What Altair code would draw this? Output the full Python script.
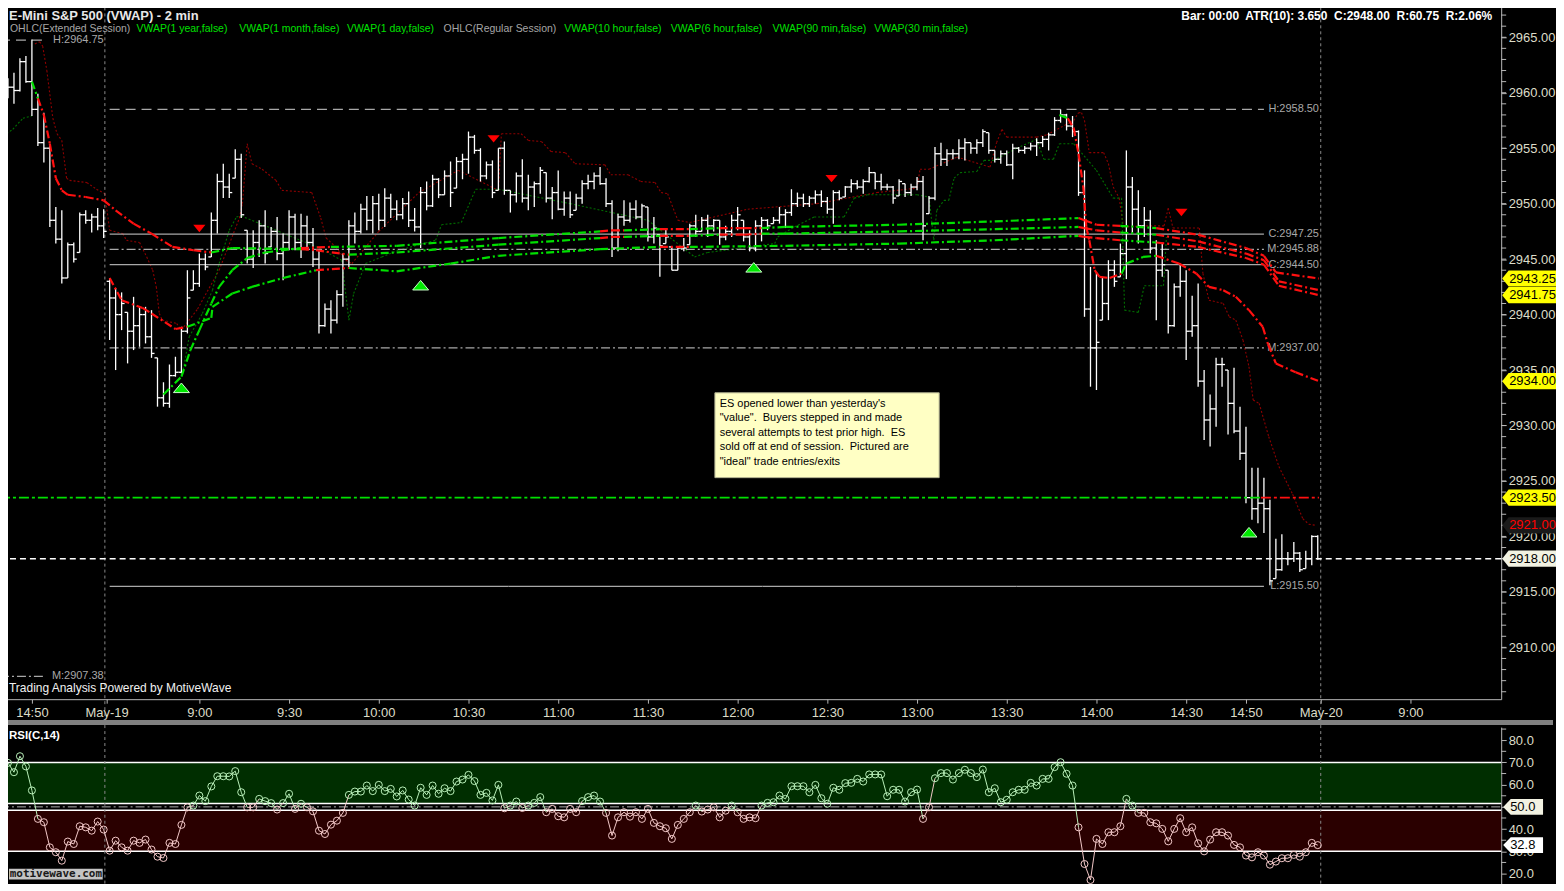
import altair as alt
import pandas as pd

# ------------------------------------------------------------------ data
OPEN = [2960.2,2960.0,2960.5,2960.2,2962.8,2961.0,2958.5,2955.5,2955.0,2948.5,
2946.8,2943.3,2946.3,2945.6,2949.0,2948.5,2948.8,2948.0,2943.0,2941.5,
2940.0,2940.2,2938.5,2939.0,2940.0,2938.0,2936.1,2932.5,2932.0,2934.5,
2934.8,2938.5,2942.2,2942.8,2945.0,2945.2,2948.5,2952.0,2951.5,2952.3,
2954.0,2947.6,2945.0,2946.5,2948.0,2946.1,2947.5,2945.5,2946.5,2948.8,
2946.5,2948.0,2946.5,2945.0,2939.0,2940.5,2939.5,2941.8,2945.0,2948.0,
2947.5,2949.5,2948.5,2950.0,2948.5,2950.5,2949.5,2949.0,2950.0,2948.5,
2947.9,2951.0,2949.8,2952.2,2950.8,2952.5,2951.4,2953.8,2954.0,2956.0,
2954.8,2952.5,2953.5,2951.2,2955.0,2951.2,2950.8,2952.5,2950.5,2951.5,
2951.8,2952.8,2950.5,2951.0,2949.5,2950.5,2949.4,2950.5,2951.8,2952.0,
2952.5,2951.8,2950.0,2946.0,2948.8,2948.5,2949.5,2948.8,2949.7,2947.0,
2947.2,2946.4,2946.1,2944.0,2946.0,2946.3,2948.0,2947.5,2948.5,2948.0,
2948.5,2947.0,2947.5,2948.5,2948.5,2947.0,2946.0,2948.0,2948.5,2948.2,
2948.5,2949.0,2949.2,2950.0,2950.5,2950.0,2950.5,2950.8,2950.2,2949.5,
2951.0,2950.6,2951.5,2951.8,2951.5,2952.0,2952.8,2952.0,2951.5,2951.5,
2950.7,2951.8,2951.0,2951.5,2952.0,2949.1,2950.5,2954.5,2954.0,2954.5,
2954.5,2955.0,2955.5,2955.0,2955.5,2956.4,2954.8,2954.0,2954.5,2953.5,
2955.0,2954.8,2955.0,2955.2,2955.5,2955.8,2956.2,2957.5,2958.0,2957.0,
2956.5,2951.0,2940.5,2937.0,2939.5,2941.0,2944.0,2943.4,2945.5,2951.5,
2949.5,2948.0,2948.5,2946.0,2944.0,2944.0,2939.0,2942.5,2943.0,2938.5,
2939.0,2934.0,2930.5,2931.5,2935.5,2935.0,2932.0,2929.5,2927.5,2923.5,
2922.5,2923.0,2922.5,2916.2,2917.0,2918.0,2918.0,2918.5,2917.1,2918.0,
2920.0]
HIGH = [2961.3,2961.3,2961.8,2963.1,2963.3,2964.8,2959.9,2958.2,2955.4,2949.7,
2949.4,2946.5,2946.5,2949.2,2949.4,2949.1,2949.6,2949.5,2943.3,2942.4,
2942.0,2940.2,2941.6,2940.7,2940.7,2940.4,2936.1,2933.9,2935.5,2936.2,
2938.9,2944.0,2944.0,2945.5,2945.5,2949.2,2952.7,2953.6,2952.7,2954.9,
2954.5,2947.6,2947.6,2948.5,2949.4,2947.9,2948.8,2947.3,2949.4,2949.1,
2949.1,2948.9,2947.8,2945.8,2941.0,2941.3,2942.2,2945.5,2948.5,2949.2,
2950.0,2950.7,2950.7,2950.9,2951.4,2950.9,2950.3,2950.5,2951.1,2949.6,
2951.5,2952.0,2952.6,2952.3,2953.0,2953.8,2954.2,2954.5,2956.5,2956.2,
2955.0,2953.8,2953.9,2955.0,2955.6,2951.2,2952.8,2954.0,2952.6,2952.0,
2953.3,2952.8,2951.5,2953.0,2951.1,2951.1,2950.9,2952.1,2952.6,2952.8,
2953.3,2952.3,2950.3,2949.1,2950.3,2950.1,2950.3,2950.0,2949.7,2948.8,
2947.2,2947.8,2946.1,2946.1,2946.9,2948.2,2949.0,2948.8,2949.0,2948.6,
2948.5,2948.0,2949.0,2949.7,2948.5,2947.6,2948.5,2948.8,2948.6,2948.8,
2949.7,2949.5,2951.3,2951.0,2950.9,2950.7,2951.2,2951.2,2950.6,2951.2,
2951.2,2951.6,2952.2,2952.1,2952.2,2953.3,2952.8,2952.7,2951.8,2951.6,
2952.2,2951.8,2951.8,2952.4,2952.5,2950.7,2955.1,2955.5,2954.9,2954.9,
2955.8,2955.9,2955.5,2955.8,2956.7,2956.4,2954.8,2954.8,2954.8,2955.4,
2955.1,2955.2,2955.5,2955.9,2956.1,2956.4,2957.8,2958.5,2958.1,2957.9,
2956.6,2953.0,2944.3,2943.8,2943.4,2944.9,2944.9,2946.4,2954.8,2952.4,
2951.2,2949.7,2949.4,2946.7,2946.4,2944.0,2942.8,2944.6,2944.0,2941.7,
2942.8,2935.0,2932.8,2936.1,2936.1,2935.0,2935.2,2931.7,2929.9,2926.2,
2926.2,2925.3,2923.3,2919.8,2920.2,2918.6,2919.5,2918.6,2918.7,2920.1,
2920.1]
LOW = [2959.0,2959.5,2959.0,2960.1,2960.9,2957.9,2955.2,2953.7,2947.9,2946.4,
2942.8,2943.3,2944.7,2945.6,2948.2,2947.4,2947.6,2946.9,2937.7,2935.0,
2938.6,2935.6,2936.8,2937.1,2937.4,2936.1,2931.7,2931.7,2931.6,2934.4,
2934.7,2938.3,2942.2,2942.5,2944.0,2945.2,2947.3,2950.5,2950.5,2952.3,
2948.7,2944.6,2944.2,2945.2,2944.6,2946.1,2944.9,2943.1,2945.8,2945.8,
2945.1,2945.8,2944.3,2938.3,2938.9,2938.3,2939.2,2940.7,2944.3,2946.4,
2947.3,2947.6,2947.3,2947.6,2947.9,2948.7,2948.5,2948.6,2947.9,2947.5,
2946.0,2949.4,2949.7,2950.5,2950.8,2949.7,2951.4,2952.2,2952.7,2954.5,
2952.0,2952.2,2950.5,2951.2,2950.8,2949.2,2950.1,2950.1,2949.4,2949.7,
2950.9,2950.1,2948.6,2949.4,2948.9,2948.7,2949.4,2950.0,2951.3,2951.3,
2951.7,2949.7,2945.2,2945.7,2948.0,2948.3,2948.6,2947.8,2946.6,2946.4,
2943.4,2946.4,2944.0,2944.0,2945.7,2946.3,2947.0,2947.5,2947.0,2947.5,
2946.3,2946.7,2947.0,2947.6,2946.6,2945.7,2945.7,2946.6,2947.6,2948.2,
2948.2,2947.8,2948.9,2949.7,2949.7,2949.7,2950.0,2949.7,2949.1,2948.2,
2950.3,2950.6,2951.0,2951.3,2950.9,2951.9,2951.3,2951.2,2951.2,2950.0,
2950.7,2950.6,2950.7,2951.2,2946.7,2949.1,2950.3,2953.4,2953.4,2954.0,
2954.0,2953.9,2954.5,2954.5,2955.1,2954.5,2953.7,2953.6,2953.4,2952.2,
2954.6,2954.5,2954.8,2954.3,2955.1,2954.8,2956.1,2957.3,2956.6,2956.0,
2950.7,2939.8,2933.5,2933.2,2939.5,2939.5,2942.5,2943.4,2943.2,2947.3,
2946.4,2947.0,2945.5,2939.5,2943.4,2938.3,2938.9,2941.6,2935.9,2938.0,
2933.5,2928.7,2928.1,2929.9,2933.5,2929.2,2929.3,2926.9,2923.0,2921.5,
2921.2,2920.3,2915.6,2916.2,2916.9,2917.4,2917.7,2916.8,2917.1,2917.4,
2917.9]
CLOSE = [2960.0,2960.5,2960.2,2962.8,2961.0,2958.5,2955.5,2955.0,2948.5,2946.8,
2943.3,2946.3,2945.0,2949.0,2948.5,2948.8,2948.0,2947.5,2941.5,2940.0,
2941.0,2938.5,2939.0,2940.0,2938.0,2936.5,2932.5,2932.0,2934.5,2934.8,
2938.5,2941.5,2942.8,2945.0,2944.3,2948.5,2952.0,2951.5,2951.0,2954.0,
2949.0,2945.0,2946.5,2948.0,2945.5,2947.5,2945.5,2946.5,2948.8,2946.5,
2948.0,2946.5,2945.0,2939.0,2940.5,2939.5,2941.8,2945.0,2948.0,2947.5,
2949.5,2948.5,2950.0,2948.5,2950.5,2949.5,2949.0,2950.0,2948.5,2947.9,
2951.0,2949.8,2952.2,2950.8,2952.5,2951.0,2953.8,2954.0,2956.0,2954.8,
2952.5,2953.5,2951.0,2955.0,2951.2,2950.8,2952.5,2950.5,2951.5,2951.8,
2953.0,2950.5,2951.0,2949.5,2950.5,2949.0,2950.5,2951.8,2952.0,2952.5,
2951.8,2950.0,2946.0,2948.8,2948.5,2949.5,2948.8,2949.8,2947.0,2947.8,
2946.2,2947.0,2944.0,2946.0,2946.0,2948.0,2947.5,2948.5,2948.0,2948.5,
2947.0,2947.5,2948.5,2949.0,2947.0,2946.0,2948.0,2948.5,2948.0,2948.5,
2949.0,2949.2,2950.0,2950.5,2950.0,2950.5,2950.8,2950.2,2949.5,2951.0,
2950.5,2951.5,2951.8,2951.5,2952.0,2952.8,2952.0,2951.5,2951.5,2950.5,
2952.0,2951.0,2951.5,2952.0,2948.0,2950.5,2954.5,2954.0,2954.5,2954.5,
2955.0,2955.5,2955.0,2955.5,2956.5,2954.8,2954.0,2954.5,2953.5,2955.0,
2954.8,2955.0,2955.2,2955.5,2955.8,2956.2,2957.5,2958.0,2957.0,2956.5,
2951.0,2940.5,2937.0,2937.5,2941.0,2944.0,2943.0,2945.5,2951.5,2949.5,
2948.0,2948.5,2946.0,2944.0,2944.5,2939.0,2942.5,2943.0,2938.5,2939.0,
2934.0,2930.5,2931.5,2935.5,2935.5,2932.0,2929.5,2927.5,2923.5,2922.5,
2923.0,2922.5,2916.0,2917.0,2918.0,2918.0,2918.5,2917.0,2918.0,2920.0,
2918.0]

RSI_VALUES = [67.9,69.8,65.6,72.8,68.2,57.4,44.6,43.1,31.8,29.6,
25.8,34.4,33.3,41.3,40.8,39.3,43.4,39.8,30.3,34.8,
31.8,30.3,34.8,33.8,35.3,30.8,27.6,27.0,33.8,33.3,
41.9,49.8,50.6,55.1,52.6,59.2,63.8,63.8,63.7,66.1,
56.6,49.8,49.8,53.6,52.6,51.7,48.8,51.7,55.9,49.1,
51.4,49.8,48.0,39.3,37.8,42.0,43.8,47.3,55.4,56.9,
56.9,59.6,57.1,59.9,57.1,58.1,54.7,57.4,53.3,50.6,
58.6,55.4,59.6,55.9,58.4,57.1,61.4,62.3,64.4,61.6,
55.4,56.3,52.9,59.9,49.4,50.6,52.4,49.5,50.6,51.8,
54.4,47.6,49.1,45.8,45.3,49.1,47.6,52.6,54.4,55.1,
52.4,47.3,37.1,45.3,47.6,45.6,47.6,44.6,49.1,42.8,
41.3,40.4,35.6,41.9,44.6,47.6,50.6,47.9,48.8,49.8,
45.3,48.3,50.6,47.6,44.6,45.3,44.9,50.6,51.8,52.1,
55.1,53.6,59.3,59.3,59.3,56.6,59.9,53.9,51.4,58.6,
57.7,60.7,60.8,62.6,61.4,64.6,64.6,64.6,54.8,57.7,
57.7,52.4,56.6,57.8,44.6,49.8,62.9,65.2,65.2,62.3,
65.2,66.7,65.2,63.4,66.8,56.6,58.4,52.1,53.2,56.6,
57.7,57.7,60.8,59.6,62.6,62.6,67.9,70.1,64.9,59.6,
40.8,24.3,17.1,35.6,33.3,38.6,38.6,41.3,53.6,50.6,
47.3,47.3,43.1,42.6,40.1,34.5,40.1,44.9,38.6,40.8,
33.6,30.0,35.3,38.6,38.6,37.1,32.9,31.8,28.1,27.3,
29.6,28.1,24.0,25.4,26.9,26.9,28.4,27.6,29.6,33.8,
32.8]

# x = bar index (2-minute bars); session boundaries
TICK_POS = [5, 17.5, 33, 48, 63, 78, 93, 108, 123, 138, 153, 168, 183, 198, 208, 220.5, 235.5]
TICK_TXT = ["14:50", "May-19", "9:00", "9:30", "10:00", "10:30", "11:00", "11:30", "12:00",
            "12:30", "13:00", "13:30", "14:00", "14:30", "14:50", "May-20", "9:00"]
SESSION_LINES = [17.2, 220.5]
PRICE_LABEL_TICKS = [2910, 2915, 2920, 2925, 2930, 2935, 2940, 2945, 2950, 2955, 2960, 2965]
PRICE_MINOR_TICKS = list(range(2906, 2969))
RSI_LABEL_TICKS = [20, 30, 40, 50, 60, 70, 80]
RSI_MINOR_TICKS = [15, 25, 35, 45, 55, 65, 75, 85]

# VWAP study lines (vertices), segment colours g/r
VWA_X = [5, 6, 7, 8, 9, 10, 11, 14, 17, 19, 22, 25, 28.5, 32, 35, 38.5, 50, 52.5, 58, 66,
         83, 100, 102, 104, 110, 115, 120, 124, 127, 131, 150, 166, 180, 181, 183, 187, 193, 200, 208, 211,
         213.5, 220.2]
VWA_Y = [2961.0, 2959.5, 2958.0, 2955.4, 2952.3, 2951.2, 2950.8, 2950.6, 2950.3, 2949.4,
         2948.2, 2947.3, 2946.1, 2945.8, 2945.6, 2946.0, 2945.9, 2945.8, 2945.4, 2945.6,
         2946.3, 2946.9, 2947.0, 2947.0, 2947.1, 2947.1, 2947.2, 2947.2, 2947.3, 2947.3,
         2947.5, 2947.7, 2947.9, 2947.8, 2947.6, 2947.4, 2947.2, 2946.6, 2945.5, 2944.9,
         2943.0, 2942.2]
VWA_C = "grrrrrrrrrrrrrggrrgggrrgrgrrggggrrrgrrrrr"
VWC_X = [27, 30, 31.5, 33, 35, 36.3, 38.5, 41, 44, 50, 55, 66, 83, 100, 102, 104, 110, 115, 120, 124,
         127, 131, 150, 166, 180, 181, 183, 187, 193, 200, 208, 211, 213, 220.2]
VWC_Y = [2932.8, 2934.4, 2936.8, 2938.6, 2941.0, 2942.5, 2944.0, 2945.1, 2945.6, 2946.0,
         2946.1, 2946.2, 2946.9, 2947.5, 2947.6, 2947.6, 2947.7, 2947.7, 2947.8, 2947.8,
         2947.8, 2947.9, 2948.1, 2948.4, 2948.7, 2948.5, 2948.1, 2948.0, 2947.8, 2947.2,
         2946.0, 2945.3, 2943.8, 2943.25]
VWC_C = "gggggggggrgggrrgrgrrggggrrrgrrrrr"
VWB_X = [18, 20, 23.5, 25, 29, 31, 35, 35.2, 38.5, 41.8, 47, 52.5, 58, 66, 75, 83, 100, 110, 115, 131,
         150, 166, 180, 181, 183, 187, 193, 200, 208, 211, 213.5, 220.2]
VWB_Y = [2943.3, 2941.3, 2940.6, 2940.1, 2938.7, 2938.9, 2939.7, 2940.7, 2941.9, 2942.5,
         2943.3, 2944.0, 2944.2, 2943.9, 2944.6, 2945.3, 2945.9, 2946.1, 2946.1, 2946.2,
         2946.4, 2946.7, 2947.1, 2947.0, 2946.9, 2946.7, 2946.5, 2946.1, 2945.1, 2944.5,
         2942.6, 2941.75]
VWB_C = "rrrrrggggggrgggggrggggrrrgrrrrr"
VWD_X = [176.8, 178.2, 179.2, 180, 180.8, 181.3, 181.8, 182.7, 183.5, 185.2, 187.2, 188, 190.8, 193,
         196.8, 199.7, 201.8, 204.2, 206.3, 208.5, 210.8, 211.7, 213, 216.3, 220.2]
VWD_Y = [2958.0, 2957.7, 2956.8, 2954.5, 2951.5, 2947.9, 2946.7, 2944.0, 2943.4, 2943.3,
         2943.7, 2944.6, 2945.2, 2945.3, 2944.6, 2943.7, 2942.5, 2942.2, 2941.6, 2940.4,
         2938.9, 2937.3, 2935.6, 2934.8, 2934.0]
VWD_C = "grrrrrrrrrgggrrrrrrrrrrr"
VW1Y_X = [-0.33, 210.5, 220.2]
VW1Y_Y = [2923.5, 2923.5, 2923.5]
VW1Y_C = "gr"

# thin dotted envelopes
DR_X = [5.5, 6.3, 6.8, 7.5, 8.5, 9.2, 10, 10.8, 11.3, 14.2, 15.8, 17.2, 18, 20.2, 20.8, 23, 24.2,
        25.2, 25.8, 26.3, 26.8, 29.2, 30, 32.7, 36.3, 39.7, 40.2, 41, 41.8, 43.5, 45.8, 46.8, 51.8,
        53.3, 54.2, 55.8, 57.5, 58.5, 63, 69.7, 76.3, 83, 83.5, 86.8, 88, 90.2, 91.8, 94.2, 95.8,
        100.8, 101.8, 104.7, 106.8, 109.2, 110.2, 111.3, 113, 115, 124.7, 136.3, 146.3, 153, 153.5,
        155, 159.7, 165.2, 166.3, 167.2, 168, 173, 174.7, 179.2, 180, 180.5, 181, 181.8, 184.2, 185,
        185.8, 186.8, 187.5, 191.3, 194.3, 195, 195.8, 200.2, 200.8, 201.8, 204.2, 205.2, 206.3,
        207.5, 208.5, 209.2, 210.2, 211.8, 213.5, 215.8, 217.5, 218.5, 219.7]
DR_Y = [2964.4, 2964.6, 2964.2, 2962.0, 2957.7, 2956.3, 2955.7, 2952.3, 2952.1, 2951.9, 2951.3,
        2950.9, 2947.6, 2947.3, 2946.7, 2946.5, 2945.2, 2944.0, 2942.5, 2940.1, 2939.5, 2939.2,
        2938.6, 2940.5, 2944.0, 2948.7, 2950.0, 2955.4, 2953.6, 2953.1, 2952.1, 2951.2, 2951.0,
        2948.7, 2946.9, 2946.1, 2944.9, 2944.6, 2947.5, 2951.0, 2953.0, 2951.2, 2956.3, 2956.3,
        2955.7, 2955.6, 2954.7, 2954.6, 2953.6, 2953.5, 2952.6, 2952.6, 2952.0, 2951.9, 2951.0,
        2950.9, 2948.5, 2948.3, 2949.5, 2950.0, 2951.0, 2951.4, 2953.1, 2953.1, 2954.2, 2953.3,
        2955.5, 2956.7, 2956.0, 2956.0, 2956.2, 2957.5, 2958.2, 2958.2, 2957.5, 2954.6, 2954.6,
        2953.6, 2951.5, 2950.5, 2947.9, 2948.0, 2948.0, 2949.6, 2947.8, 2947.8, 2943.7, 2941.3,
        2941.0, 2939.8, 2939.5, 2937.7, 2935.3, 2932.3, 2932.0, 2929.0, 2926.3, 2923.8, 2921.6,
        2921.1, 2921.0]
DG1_X = [-0.33, 1.8, 3.5, 5]
DG1_Y = [2955.9, 2956.7, 2957.7, 2957.9]
DG2_X = [30.2, 31.3, 33.5, 35.2, 36.3, 38, 39.2, 40, 46.3, 53, 56.8, 58, 58.8, 60.8, 63.5, 66.3,
         72.5, 73.5, 76.8, 79.2, 83, 95, 108, 115.8, 118, 129.2, 129.7, 132.5, 135.8, 140.8, 142.5,
         144.7, 153, 155, 155.8, 156.3, 157.5, 158.3, 159.2, 160.2, 163, 164.2, 165.8, 169.7, 173,
         174.2, 175.8, 176.8, 179.2, 183, 185.8, 187.2, 187.7, 190, 191, 194.2, 194.7]
DG2_Y = [2934.7, 2938.0, 2940.1, 2942.2, 2944.6, 2947.6, 2948.8, 2948.9, 2947.5, 2946.0, 2944.9,
         2939.5, 2941.9, 2944.6, 2945.2, 2945.8, 2946.7, 2948.1, 2948.3, 2951.3, 2951.3, 2950.0,
         2948.5, 2945.2, 2945.6, 2946.4, 2947.0, 2947.9, 2948.8, 2948.8, 2950.5, 2950.8, 2950.8,
         2950.6, 2946.7, 2949.4, 2950.3, 2950.3, 2952.3, 2952.8, 2952.9, 2953.9, 2953.9, 2955.0,
         2955.8, 2954.0, 2954.0, 2955.4, 2955.4, 2953.0, 2950.5, 2950.5, 2940.4, 2940.2, 2942.6,
         2942.6, 2947.0]

# session reference levels
REF_PRICE = [2958.50, 2947.25, 2945.88, 2944.50, 2937.00, 2915.50]
REF_TEXT = ["H:2958.50", "C:2947.25", "M:2945.88", "C:2944.50", "M:2937.00", "L:2915.50"]
REF_STYLE = ["dash", "solid", "dashdot", "solid", "dashdot", "solid"]
REF_FROM, REF_TO, REF_LABEL_AT = 18, 211, 220.2
PRIOR_PRICE = [2964.75, 2907.38]
PRIOR_TEXT = ["H:2964.75", "M:2907.38"]
PRIOR_STYLE = ["dash", "dashdot"]
PRIOR_FROM, PRIOR_TO, PRIOR_LABEL_AT = -0.33, 7.3, 17.0

# trade markers
BUY_X = [30, 70, 125.7, 208.5]
BUY_Y = [2933.4, 2942.65, 2944.26, 2920.38]
SELL_X = [33, 82.2, 138.7, 197.2]
SELL_Y = [2947.76, 2955.84, 2952.25, 2949.2]

NOTE_BOX = [119.2, 156.7, 2932.95, 2925.3]
NOTE_TEXT = ("ES opened lower than yesterday's\n\"value\".\u00a0 Buyers stepped in and made\n"
             "several attempts to test prior high.\u00a0 ES\nsold off at end of session.\u00a0 Pictured are\n"
             "\"ideal\" trade entries/exits")
HEADER_RIGHT = "Bar: 00:00\u00a0 ATR(10): 3.650\u00a0 C:2948.00\u00a0 R:60.75\u00a0 R:2.06%"

PRICE_TAGS = [2943.25, 2941.75, 2934.00, 2923.50, 2921.00, 2918.00]
PRICE_TAG_FILL = ["#ffff00", "#ffff00", "#ffff00", "#ffff00", "#1a1a1a", "#f2f2e2"]
PRICE_TAG_INK = ["#000000", "#000000", "#000000", "#000000", "#ff0000", "#000000"]
RSI_TAGS = [50.0, 32.8]
RSI_GREEN = [51.5, 70.0]
RSI_RED = [30.0, 48.5]
RSI_LINES = [70.0, 51.5, 48.5, 30.0]

LEGEND_TXT = ["OHLC(Extended Session)", "VWAP(1 year,false)", "VWAP(1 month,false)",
              "VWAP(1 day,false)", "OHLC(Regular Session)", "VWAP(10 hour,false)",
              "VWAP(6 hour,false)", "VWAP(90 min,false)", "VWAP(30 min,false)"]
LEGEND_X = [10, 137, 240, 348, 445, 566, 673, 775, 877]

n = len(CLOSE)
assert len(OPEN) == n == len(HIGH) == len(LOW) == len(RSI_VALUES)

# ------------------------------------------------------------------ layout
# an anchor at (-6,-6) fixes the content bounds; the negative padding then makes
# the chart's own coordinates coincide with the page's pixel coordinates
W, H1, H2, GAP = 1506, 700, 163, 28
FONT = "Liberation Sans"
AXC = "#dcdcc8"
TICKC = "#b8b8b8"
XS = alt.Scale(domain=[-0.33, 250.67], nice=False, zero=False)
YS = alt.Scale(domain=[2905.33, 2968.23], nice=False, zero=False)
RS = alt.Scale(domain=[12.8, 85.9], nice=False, zero=False)
COLMAP = {"g": "#00e000", "r": "#ff1010"}
DASHES = {"dash": [10, 6], "solid": [1, 0], "dashdot": [9, 3, 2, 3]}

label_expr = "".join(f"datum.value == {p} ? '{t}' : " for p, t in zip(TICK_POS, TICK_TXT)) + "''"
XAXIS = alt.Axis(values=TICK_POS, labelExpr=label_expr, title=None, grid=False, tickSize=4,
                 labelPadding=3, labelFontSize=13, labelColor=AXC, domainColor=TICKC,
                 tickColor=TICKC, labelFlush=False, labelOverlap=False, labelFont=FONT)
YAXIS = alt.Axis(orient="right", values=PRICE_LABEL_TICKS, format=".2f",
                 title=None, grid=False, tickSize=5, labelPadding=2, labelFontSize=13,
                 labelColor=AXC, domainColor=TICKC, tickColor=TICKC,
                 labelOverlap=False, labelFont=FONT)
RAXIS = alt.Axis(orient="right", values=RSI_LABEL_TICKS, format=".1f",
                 title=None, grid=False, tickSize=5, labelPadding=2, labelFontSize=13,
                 labelColor=AXC, domainColor=TICKC, tickColor=TICKC,
                 labelOverlap=False, labelFont=FONT)


def PX(field):
    return alt.X(field, scale=XS, axis=XAXIS)


def PY(field):
    return alt.Y(field, scale=YS, axis=YAXIS)


def RX(field):
    return alt.X(field, scale=XS, axis=None)


def RY(field):
    return alt.Y(field, scale=RS, axis=RAXIS)


def seg_frame(xs, ys, cols=None):
    assert len(xs) == len(ys)
    df = pd.DataFrame({"x": xs[:-1], "x2": xs[1:], "y": ys[:-1], "y2": ys[1:]})
    if cols is not None:
        assert len(cols) == len(xs) - 1
        df["c"] = [COLMAP[ch] for ch in cols]
    return df


def seg_layer(df, width, dash=None, color=None):
    mk = dict(strokeWidth=width)
    if dash is not None:
        mk["strokeDash"] = dash
    if color is not None:
        mk["color"] = color
    enc = dict(x=PX("x:Q"), x2="x2:Q", y=PY("y:Q"), y2="y2:Q")
    if color is None:
        enc["color"] = alt.Color("c:N", scale=None)
    return alt.Chart(df).mark_rule(**mk).encode(**enc)


def pixel_text(txt, px, py, size=11, color="#ffffff", weight="normal", align="left", font=FONT):
    return alt.Chart(pd.DataFrame({"t": [txt]})).mark_text(
        align=align, baseline="middle", font=font, fontSize=size, fontWeight=weight, color=color
    ).encode(x=alt.value(px), y=alt.value(py), text="t:N")


one = pd.DataFrame({"a": [0]})
price_layers = []

bars = pd.DataFrame({"i": list(range(n)), "o": OPEN, "h": HIGH, "l": LOW, "c": CLOSE})
bars["il"] = bars["i"] - 0.5
bars["ir"] = bars["i"] + 0.5

# layout anchor and minor ticks of the price axis
price_layers.append(alt.Chart(one).mark_rect(fill="#000000").encode(
    x=alt.value(-6), x2=alt.value(-5), y=alt.value(-6), y2=alt.value(-5)))
price_layers.append(alt.Chart(pd.DataFrame({"v": PRICE_MINOR_TICKS})).mark_rule(
    color=TICKC, strokeWidth=1).encode(y=PY("v:Q"), x=alt.value(W), x2=alt.value(W + 5)))

# dotted envelopes
price_layers.append(seg_layer(seg_frame(DR_X, DR_Y), 1.1, [2, 2], "#8e0000"))
price_layers.append(seg_layer(seg_frame(DG1_X, DG1_Y), 1.1, [2, 2], "#007000"))
price_layers.append(seg_layer(seg_frame(DG2_X, DG2_Y), 1.1, [2, 2], "#007000"))

# session reference lines
ref_df = pd.DataFrame({"p": REF_PRICE + PRIOR_PRICE, "t": REF_TEXT + PRIOR_TEXT,
                       "s": REF_STYLE + PRIOR_STYLE,
                       "x0": [REF_FROM] * len(REF_PRICE) + [PRIOR_FROM] * len(PRIOR_PRICE),
                       "x1": [REF_TO] * len(REF_PRICE) + [PRIOR_TO] * len(PRIOR_PRICE),
                       "xl": [REF_LABEL_AT] * len(REF_PRICE) + [PRIOR_LABEL_AT] * len(PRIOR_PRICE)})
price_layers.append(alt.Chart(ref_df).mark_rule(color="#a8a8a8", strokeWidth=1.2).encode(
    x=PX("x0:Q"), x2="x1:Q", y=PY("p:Q"),
    strokeDash=alt.StrokeDash("s:N", scale=alt.Scale(domain=list(DASHES), range=list(DASHES.values())),
                              legend=None)))
price_layers.append(alt.Chart(ref_df).mark_text(align="right", baseline="middle", font=FONT,
                                                fontSize=11, color="#a8a8a8").encode(
    x=PX("xl:Q"), y=PY("p:Q"), text="t:N"))

# session separators
price_layers.append(alt.Chart(pd.DataFrame({"s": SESSION_LINES})).mark_rule(
    color="#8a8a8a", strokeDash=[3, 3], strokeWidth=1).encode(
    x=PX("s:Q"), y=alt.value(0), y2=alt.value(H1 + 21)))

# last price line
price_layers.append(alt.Chart(pd.DataFrame({"p": [CLOSE[-1]]})).mark_rule(
    color="#ffffff", strokeDash=[6, 4], strokeWidth=1.5).encode(
    y=PY("p:Q"), x=alt.value(0), x2=alt.value(W)))

# OHLC bars
price_layers.append(alt.Chart(bars).mark_rule(color="#ffffff", strokeWidth=1.3).encode(
    x=PX("i:Q"), y=PY("l:Q"), y2="h:Q"))
price_layers.append(alt.Chart(bars).mark_rule(color="#ffffff", strokeWidth=1.3).encode(
    x=PX("il:Q"), x2="i:Q", y=PY("o:Q")))
price_layers.append(alt.Chart(bars).mark_rule(color="#ffffff", strokeWidth=1.3).encode(
    x=PX("i:Q"), x2="ir:Q", y=PY("c:Q")))

# VWAP studies
price_layers.append(seg_layer(seg_frame(VW1Y_X, VW1Y_Y, VW1Y_C), 1.6, [10, 3, 3, 3]))
for xs, ys, cs in [(VWA_X, VWA_Y, VWA_C), (VWB_X, VWB_Y, VWB_C), (VWC_X, VWC_Y, VWC_C),
                   (VWD_X, VWD_Y, VWD_C)]:
    price_layers.append(seg_layer(seg_frame(xs, ys, cs), 2.2, [8, 3, 2, 3]))

# trade markers
price_layers.append(alt.Chart(pd.DataFrame({"x": BUY_X, "y": BUY_Y})).mark_point(
    shape="M-1,0.6L0,-0.6L1,0.6Z", size=256, filled=True, fill="#00e800", stroke="#c8ffc8",
    strokeWidth=1, opacity=1).encode(x=PX("x:Q"), y=PY("y:Q")))
price_layers.append(alt.Chart(pd.DataFrame({"x": SELL_X, "y": SELL_Y})).mark_point(
    shape="M-1,-0.6L1,-0.6L0,0.6Z", size=150, filled=True, fill="#ff0000", strokeWidth=0,
    opacity=1).encode(x=PX("x:Q"), y=PY("y:Q")))

# note
note_df = pd.DataFrame({"x0": [NOTE_BOX[0]], "x1": [NOTE_BOX[1]], "y0": [NOTE_BOX[2]],
                        "y1": [NOTE_BOX[3]], "t": [NOTE_TEXT]})
note_df["tx"] = note_df["x0"] + 0.8
note_df["ty"] = note_df["y0"] - 0.45
price_layers.append(alt.Chart(note_df).mark_rect(fill="#ffffc4", stroke="#b0b090", strokeWidth=1).encode(
    x=PX("x0:Q"), x2="x1:Q", y=PY("y0:Q"), y2="y1:Q"))
price_layers.append(alt.Chart(note_df).mark_text(align="left", baseline="top", font=FONT, fontSize=11,
                                                 lineBreak="\n", lineHeight=14.5, color="#000000").encode(
    x=PX("tx:Q"), y=PY("ty:Q"), text="t:N"))

# header texts (kept just inside the visible page area)
price_layers.append(pixel_text("E-Mini S&P 500 (VWAP) - 2 min", 9, 15, size=13, color="#e8e8e8", weight="bold"))
for txt, px in zip(LEGEND_TXT, LEGEND_X):
    col = "#a6a6a6" if txt.startswith("OHLC") else "#00e000"
    price_layers.append(pixel_text(txt, px, 28, size=10.5, color=col))
price_layers.append(pixel_text(HEADER_RIGHT, 1497, 15, size=12, color="#ffffff", weight="bold", align="right"))
price_layers.append(pixel_text("Trading Analysis Powered by MotiveWave", 9, 689, size=12, color="#f0f0f0"))

# right-hand value tags
TAG_PATH = "M-1,0L-0.76,-0.3L1,-0.3L1,0.3L-0.76,0.3Z"
tag_df = pd.DataFrame({"v": PRICE_TAGS, "f": PRICE_TAG_FILL, "k": PRICE_TAG_INK})
tag_df["t"] = tag_df["v"].map(lambda v: f"{v:.2f}")
price_layers.append(alt.Chart(tag_df).mark_point(shape=TAG_PATH, size=2916, filled=True, opacity=1,
                                                 strokeWidth=0).encode(
    x=alt.value(W + 28), y=PY("v:Q"), fill=alt.Fill("f:N", scale=None)))
price_layers.append(alt.Chart(tag_df).mark_text(align="left", baseline="middle", font=FONT,
                                                fontSize=13).encode(
    x=alt.value(W + 8), y=PY("v:Q"), text="t:N", color=alt.Color("k:N", scale=None)))

price = alt.layer(*price_layers).properties(width=W, height=H1)

# ------------------------------------------------------------------ RSI panel
rsi_layers = []
band_df = pd.DataFrame({"a": [RSI_GREEN[0], RSI_RED[0]], "b": [RSI_GREEN[1], RSI_RED[1]],
                        "f": ["#002e00", "#2a0000"]})
rsi_layers.append(alt.Chart(band_df).mark_rect().encode(
    x=alt.value(0), x2=alt.value(W), y=RY("a:Q"), y2="b:Q", fill=alt.Fill("f:N", scale=None)))
rsi_layers.append(alt.Chart(pd.DataFrame({"v": RSI_MINOR_TICKS})).mark_rule(
    color=TICKC, strokeWidth=1).encode(y=RY("v:Q"), x=alt.value(W), x2=alt.value(W + 5)))
rsi_layers.append(alt.Chart(pd.DataFrame({"v": RSI_LINES})).mark_rule(color="#ffffff", strokeWidth=1.5).encode(
    y=RY("v:Q"), x=alt.value(0), x2=alt.value(W)))
rsi_layers.append(alt.Chart(pd.DataFrame({"v": [50.0]})).mark_rule(
    color="#b0b0b0", strokeWidth=1, strokeDash=[9, 3, 2, 3]).encode(
    y=RY("v:Q"), x=alt.value(0), x2=alt.value(W)))
rsi_layers.append(alt.Chart(pd.DataFrame({"s": SESSION_LINES})).mark_rule(
    color="#8a8a8a", strokeDash=[3, 3], strokeWidth=1).encode(
    x=RX("s:Q"), y=alt.value(-8), y2=alt.value(H2)))

rsi_df = pd.DataFrame({"x": list(range(n)), "v": RSI_VALUES})
rsi_df["c"] = ["#b8eeb8" if v >= 50 else "#f2c8c8" for v in RSI_VALUES]
rseg = pd.DataFrame({"x": rsi_df["x"][:-1].values, "x2": rsi_df["x"][1:].values,
                     "y": rsi_df["v"][:-1].values, "y2": rsi_df["v"][1:].values,
                     "c": rsi_df["c"][:-1].values})
rsi_layers.append(alt.Chart(rseg).mark_rule(strokeWidth=1).encode(
    x=RX("x:Q"), x2="x2:Q", y=RY("y:Q"), y2="y2:Q", color=alt.Color("c:N", scale=None)))
rsi_layers.append(alt.Chart(rsi_df).mark_point(shape="circle", filled=False, size=50, strokeWidth=1,
                                               opacity=1).encode(
    x=RX("x:Q"), y=RY("v:Q"), stroke=alt.Stroke("c:N", scale=None)))

RTAG_PATH = "M-1,0L-0.62,-0.4L1,-0.4L1,0.4L-0.62,0.4Z"
rtag = pd.DataFrame({"v": RSI_TAGS, "f": ["#f2f2e2", "#ffffff"]})
rtag["t"] = rtag["v"].map(lambda v: f"{v:.1f}")
rsi_layers.append(alt.Chart(rtag).mark_point(shape=RTAG_PATH, size=1600, filled=True, opacity=1,
                                             strokeWidth=0).encode(
    x=alt.value(W + 22), y=RY("v:Q"), fill=alt.Fill("f:N", scale=None)))
rsi_layers.append(alt.Chart(rtag).mark_text(align="left", baseline="middle", font=FONT, fontSize=13,
                                            color="#000000").encode(
    x=alt.value(W + 9), y=RY("v:Q"), text="t:N"))

rsi_layers.append(pixel_text("RSI(C,14)", 9, 9, size=11.5, color="#ffffff", weight="bold"))
rsi_layers.append(alt.Chart(one).mark_rect(fill="#c4c4c4").encode(
    x=alt.value(9), x2=alt.value(103), y=alt.value(142), y2=alt.value(153)))
rsi_layers.append(pixel_text("motivewave.com", 56, 147.5, size=11, color="#1a1a1a", weight="bold",
                             align="center", font="DejaVu Sans Mono"))
rsi_layers.append(alt.Chart(one).mark_rule(color="#808080", strokeWidth=5).encode(
    x=alt.value(0), x2=alt.value(W + 52), y=alt.value(-4.5)))

rsi = alt.layer(*rsi_layers).properties(width=W, height=H2)

chart = alt.vconcat(price, rsi, spacing=GAP, bounds="flush").properties(
    background="#000000", padding={"left": -14, "top": -14, "right": 0, "bottom": -8}
).configure_view(strokeWidth=0).configure_axis(labelOverlap=False)

chart.save("out.html", embed_options={"renderer": "svg", "actions": False})
